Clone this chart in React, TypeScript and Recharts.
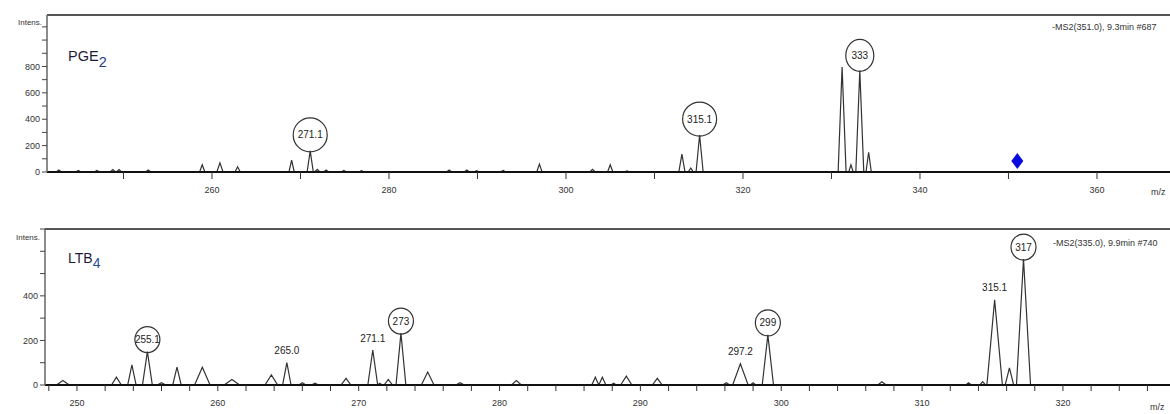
import React from 'react';
import { ComposedChart, Line, XAxis, YAxis, ReferenceLine, ReferenceDot } from 'recharts';

// ---------- PGE2 spectrum (top panel) ----------
const pgeMz = [242.7, 244.9, 247.0, 248.8, 249.5, 252.8, 258.9, 260.9, 262.9, 269.0, 271.1, 271.9, 272.9, 274.9, 276.9, 286.8, 288.8, 289.9, 292.9, 297.0, 303.0, 305.0, 306.9, 313.1, 314.1, 315.1, 331.2, 332.2, 333.2, 334.2];
const pgeIntensity = [15, 12, 12, 18, 18, 15, 55, 70, 40, 90, 160, 20, 15, 12, 10, 15, 15, 10, 12, 60, 20, 55, 8, 135, 30, 280, 795, 55, 770, 150];
const pgeWidth = [0.3, 0.3, 0.3, 0.3, 0.3, 0.3, 0.3, 0.35, 0.3, 0.3, 0.35, 0.3, 0.3, 0.3, 0.3, 0.3, 0.3, 0.3, 0.3, 0.3, 0.3, 0.3, 0.3, 0.35, 0.3, 0.4, 0.45, 0.25, 0.45, 0.3];

// ---------- LTB4 spectrum (bottom panel) ----------
const ltbMz = [249.0, 252.8, 253.9, 255.0, 256.0, 257.1, 258.9, 261.0, 263.8, 264.9, 266.0, 266.9, 269.1, 271.0, 271.5, 272.1, 273.0, 274.9, 277.2, 281.2, 286.8, 287.3, 288.1, 289.0, 291.2, 296.1, 297.1, 298.0, 299.05, 307.15, 313.3, 314.3, 315.15, 316.2, 317.2];
const ltbIntensity = [20, 35, 90, 150, 10, 80, 80, 25, 45, 100, 10, 8, 30, 157, 8, 25, 233, 58, 10, 20, 35, 35, 8, 40, 30, 10, 95, 10, 225, 15, 10, 15, 382, 77, 565];
const ltbWidth = [0.45, 0.35, 0.3, 0.35, 0.3, 0.3, 0.55, 0.55, 0.45, 0.3, 0.25, 0.25, 0.35, 0.35, 0.15, 0.3, 0.35, 0.45, 0.3, 0.35, 0.25, 0.25, 0.2, 0.4, 0.35, 0.25, 0.55, 0.2, 0.4, 0.3, 0.2, 0.2, 0.55, 0.3, 0.5];

// ---------- Axis ticks ----------
const pgeXTicks = [250, 260, 270, 280, 290, 300, 310, 320, 330, 340, 350, 360];
const pgeXLabels = [260, 280, 300, 320, 340, 360];
const pgeYTicks = [0, 100, 200, 300, 400, 500, 600, 700, 800, 900, 1000, 1100];
const pgeYLabels = [0, 200, 400, 600, 800];

const ltbXTicks = [248, 250, 252, 254, 256, 258, 260, 262, 264, 266, 268, 270, 272, 274, 276, 278, 280, 282, 284, 286, 288, 290, 292, 294, 296, 298, 300, 302, 304, 306, 308, 310, 312, 314, 316, 318, 320, 322, 324, 326];
const ltbXLabels = [250, 260, 270, 280, 290, 300, 310, 320];
const ltbYTicks = [0, 100, 200, 300, 400, 500, 600, 700];
const ltbYLabels = [0, 200, 400];

// ---------- Annotations ----------
const pgeCircledText = ['271.1', '315.1', '333'];
const pgeCircledMz = [271.1, 315.1, 333.2];
const pgePrecursorMz = 351.0;

const ltbCircledText = ['255.1', '273', '299', '317'];
const ltbCircledMz = [255.0, 273.0, 299.05, 317.2];
const ltbPlainText = ['265.0', '271.1', '297.2', '315.1'];
const ltbPlainMz = [264.9, 271.0, 297.1, 315.15];

const AXIS_FONT = '"Liberation Sans Narrow", "Liberation Sans", Arial, sans-serif';

function buildProfile(mz: number[], inten: number[], width: number[]) {
  const pts: { mz: number; i: number }[] = [];
  mz.forEach((m, k) => {
    pts.push({ mz: m - width[k], i: 0 });
    pts.push({ mz: m, i: inten[k] });
    pts.push({ mz: m + width[k], i: 0 });
  });
  pts.sort((a, b) => a.mz - b.mz);
  return pts;
}

function heightAt(mz: number[], inten: number[], m: number) {
  let best = 0;
  let d = Infinity;
  mz.forEach((x, k) => {
    if (Math.abs(x - m) < d) {
      d = Math.abs(x - m);
      best = inten[k];
    }
  });
  return best;
}

const pgeData = buildProfile(pgeMz, pgeIntensity, pgeWidth);
const ltbData = buildProfile(ltbMz, ltbIntensity, ltbWidth);

const circled = (text: string, r: number, ry: number) => (p: any) => {
  const cx = p.cx;
  const cy = p.cy - ry + 1;
  return (
    <g>
      <ellipse cx={cx} cy={cy} rx={r} ry={ry} fill="#fff" fillOpacity={0} stroke="#333" strokeWidth={1.2} />
      <text x={cx} y={cy + 3.5} textAnchor="middle" fontSize={10} fontFamily={AXIS_FONT} fill="#222">
        {text}
      </text>
    </g>
  );
};

const plain = (text: string) => (p: any) => (
  <text x={p.cx} y={p.cy - 8.5} textAnchor="middle" fontSize={10} fontFamily={AXIS_FONT} fill="#222">
    {text}
  </text>
);

const diamond = (p: any) => {
  const cx = p.cx;
  const cy = p.cy - 11;
  return <polygon points={`${cx},${cy - 8} ${cx + 6},${cy} ${cx},${cy + 8} ${cx - 6},${cy}`} fill="#0a0ae0" />;
};

const fmt = (labels: number[]) => (v: number) => (labels.includes(v) ? String(v) : '');

export default function App() {
  return (
    <div style={{ position: 'absolute', left: 0, top: 0, width: 1170, height: 414, background: '#fff', overflow: 'hidden' }}>
      <div style={{ position: 'absolute', left: 0, top: 0 }}>
        <ComposedChart width={1170} height={207} data={pgeData} margin={{ top: 15, right: 0, bottom: 0, left: 0 }}>
          <XAxis
            dataKey="mz"
            type="number"
            domain={[241.36, 368.25]}
            allowDataOverflow
            ticks={pgeXTicks}
            tickFormatter={fmt(pgeXLabels)}
            interval={0}
            height={35}
            tickSize={7}
            tickMargin={8}
            axisLine={{ stroke: '#111', strokeWidth: 2 }}
            tickLine={{ stroke: '#333' }}
            tick={{ fontSize: 9, fill: '#333', fontFamily: AXIS_FONT }}
          />
          <YAxis
            type="number"
            domain={[0, 1190]}
            allowDataOverflow
            ticks={pgeYTicks}
            tickFormatter={fmt(pgeYLabels)}
            interval={0}
            width={47}
            tickSize={5}
            tickMargin={2}
            axisLine={{ stroke: '#666', strokeWidth: 1.5 }}
            tickLine={{ stroke: '#444' }}
            tick={{ fontSize: 9, fill: '#333', fontFamily: AXIS_FONT }}
          />
          <ReferenceLine y={1190} stroke="#555" strokeWidth={2} />
          <Line type="linear" dataKey="i" stroke="#333" strokeWidth={1.2} dot={false} isAnimationActive={false} />
          {pgeCircledMz.map((m, k) => (
            <ReferenceDot
              key={'pc' + k}
              x={m}
              y={heightAt(pgeMz, pgeIntensity, m)}
              shape={circled(pgeCircledText[k], k === 2 ? 14 : 17, k === 2 ? 16 : 17)}
            />
          ))}
          <ReferenceDot x={pgePrecursorMz} y={0} shape={diamond} />
        </ComposedChart>
      </div>
      <div style={{ position: 'absolute', left: 0, top: 207 }}>
        <ComposedChart width={1170} height={207} data={ltbData} margin={{ top: 22, right: 0, bottom: 0, left: 0 }}>
          <XAxis
            dataKey="mz"
            type="number"
            domain={[247.73, 327.6]}
            allowDataOverflow
            ticks={ltbXTicks}
            tickFormatter={fmt(ltbXLabels)}
            interval={0}
            height={29}
            tickSize={6}
            tickMargin={9}
            axisLine={{ stroke: '#111', strokeWidth: 2 }}
            tickLine={{ stroke: '#333' }}
            tick={{ fontSize: 9, fill: '#333', fontFamily: AXIS_FONT }}
          />
          <YAxis
            type="number"
            domain={[0, 700]}
            allowDataOverflow
            ticks={ltbYTicks}
            tickFormatter={fmt(ltbYLabels)}
            interval={0}
            width={45}
            tickSize={5}
            tickMargin={2}
            axisLine={{ stroke: '#666', strokeWidth: 1.5 }}
            tickLine={{ stroke: '#444' }}
            tick={{ fontSize: 9, fill: '#333', fontFamily: AXIS_FONT }}
          />
          <ReferenceLine y={700} stroke="#555" strokeWidth={2} />
          <Line type="linear" dataKey="i" stroke="#333" strokeWidth={1.2} dot={false} isAnimationActive={false} />
          {ltbCircledMz.map((m, k) => (
            <ReferenceDot
              key={'lc' + k}
              x={m}
              y={heightAt(ltbMz, ltbIntensity, m)}
              shape={circled(ltbCircledText[k], 12.5, 13)}
            />
          ))}
          {ltbPlainMz.map((m, k) => (
            <ReferenceDot key={'lp' + k} x={m} y={heightAt(ltbMz, ltbIntensity, m)} shape={plain(ltbPlainText[k])} />
          ))}
        </ComposedChart>
      </div>
      <svg width={1170} height={414} style={{ position: 'absolute', left: 0, top: 0, pointerEvents: 'none' }}>
        <g fontFamily={AXIS_FONT} fill="#333">
          <text x={42} y={25} fontSize={8} textAnchor="end">Intens.</text>
          <text x={40} y={240} fontSize={8} textAnchor="end">Intens.</text>
          <text x={1052} y={30} fontSize={9}>-MS2(351.0), 9.3min #687</text>
          <text x={1053} y={246} fontSize={9}>-MS2(335.0), 9.9min #740</text>
          <text x={1151} y={195} fontSize={9}>m/z</text>
          <text x={1150} y={410} fontSize={9}>m/z</text>
        </g>
        <g fontFamily='"Liberation Sans", Arial, sans-serif'>
          <text x={68} y={61} fontSize={14.5} fill="#1f1a3a">
            PGE<tspan dy={6} fill="#1e3f7a">2</tspan>
          </text>
          <text x={68} y={263} fontSize={14} fill="#1f1a3a">
            LTB<tspan dy={5} fill="#1e4f9a">4</tspan>
          </text>
        </g>
      </svg>
    </div>
  );
}
